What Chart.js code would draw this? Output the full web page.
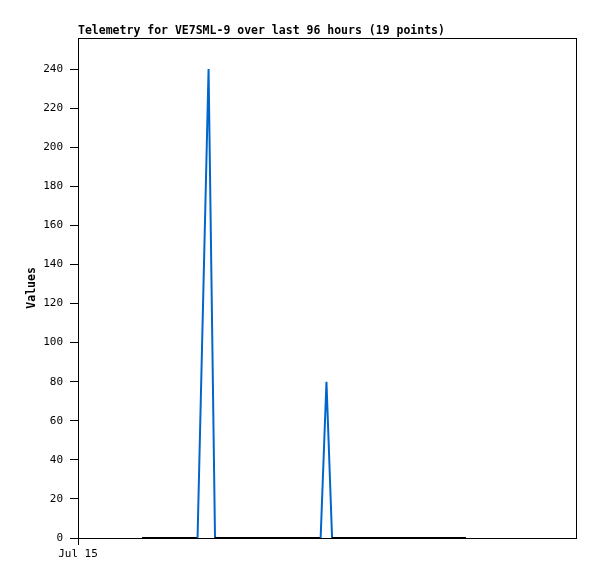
<!doctype html>
<html lang="en">
<head>
    <meta charset="UTF-8">
    <title>Telemetry</title>
    <script src="https://cdn.jsdelivr.net/npm/chart.js"></script>
    <style>
        body { margin: 0; background: #fff; }
    </style>
</head>
<body>
<canvas id="telemetry" width="597" height="579"></canvas>
<script>
  // hours since Jul 15 00:00
  const hours = [3.08, 3.9, 4.7, 5.3, 5.75, 6.28, 6.59, 7.5, 8.6, 9.7, 10.8, 11.67, 11.95, 12.22, 13.5, 15.0, 16.2, 17.4, 18.66];
  const values = [0, 0, 0, 0, 0, 240, 0, 0, 0, 0, 0, 0, 80, 0, 0, 0, 0, 0, 0];
  const xTickLabels = ['Jul 15'];
  const yTicks = [0, 20, 40, 60, 80, 100, 120, 140, 160, 180, 200, 220, 240];

  const points = hours.map((h, i) => ({x: h, y: values[i]}));

  const frame = {
    id: 'frame',
    afterDatasetsDraw(chart) {
      const {ctx, chartArea: a} = chart;
      ctx.save();
      ctx.strokeStyle = '#000';
      ctx.lineWidth = 1;
      ctx.strokeRect(Math.round(a.left) + 0.5, Math.round(a.top) + 0.5,
        Math.round(a.right - a.left) - 1, Math.round(a.bottom - a.top));
      ctx.restore();
    }
  };

  new Chart(document.getElementById('telemetry'), {
    type: 'line',
    data: {
      datasets: [{
        data: points,
        borderColor: '#0066cc',
        borderWidth: 2,
        pointRadius: 0,
        tension: 0,
        segment: {
          borderColor: (c) => (c.p0.parsed.y === 0 && c.p1.parsed.y === 0) ? '#000' : '#0066cc'
        }
      }]
    },
    options: {
      responsive: false,
      animation: false,
      layout: {padding: {left: 20, right: 20, top: 0, bottom: 0}},
      plugins: {
        legend: {display: false},
        tooltip: {enabled: false},
        title: {
          display: true,
          text: 'Telemetry for VE7SML-9 over last 96 hours (19 points)',
          align: 'start',
          fullSize: false,
          color: '#000',
          font: {family: 'DejaVu Sans Mono', size: 11.5, weight: 'bold'},
          padding: {top: 24, bottom: 0}
        }
      },
      scales: {
        x: {
          type: 'linear',
          min: 0,
          max: 24,
          border: {display: false},
          grid: {drawOnChartArea: false, drawTicks: true, tickLength: 7, color: '#000'},
          afterBuildTicks: (s) => { s.ticks = [{value: 0}]; },
          afterFit: (s) => { s.height = 41; },
          ticks: {
            autoSkip: false,
            maxRotation: 0,
            padding: 3,
            color: '#000',
            font: {family: 'DejaVu Sans Mono', size: 11},
            callback: (v, i) => xTickLabels[i]
          }
        },
        y: {
          min: 0,
          max: 256,
          border: {display: false},
          grid: {drawOnChartArea: false, drawTicks: true, tickLength: 8, color: '#000'},
          afterBuildTicks: (s) => { s.ticks = yTicks.map((v) => ({value: v})); },
          afterFit: (s) => { s.width = 58; },
          title: {
            display: true,
            text: 'Values',
            color: '#000',
            font: {family: 'DejaVu Sans Mono', size: 11.5, weight: 'bold'},
            padding: {top: 5, bottom: 0}
          },
          ticks: {
            padding: 7,
            color: '#000',
            font: {family: 'DejaVu Sans Mono', size: 11}
          }
        }
      }
    },
    plugins: [frame]
  });
</script>
</body>
</html>
